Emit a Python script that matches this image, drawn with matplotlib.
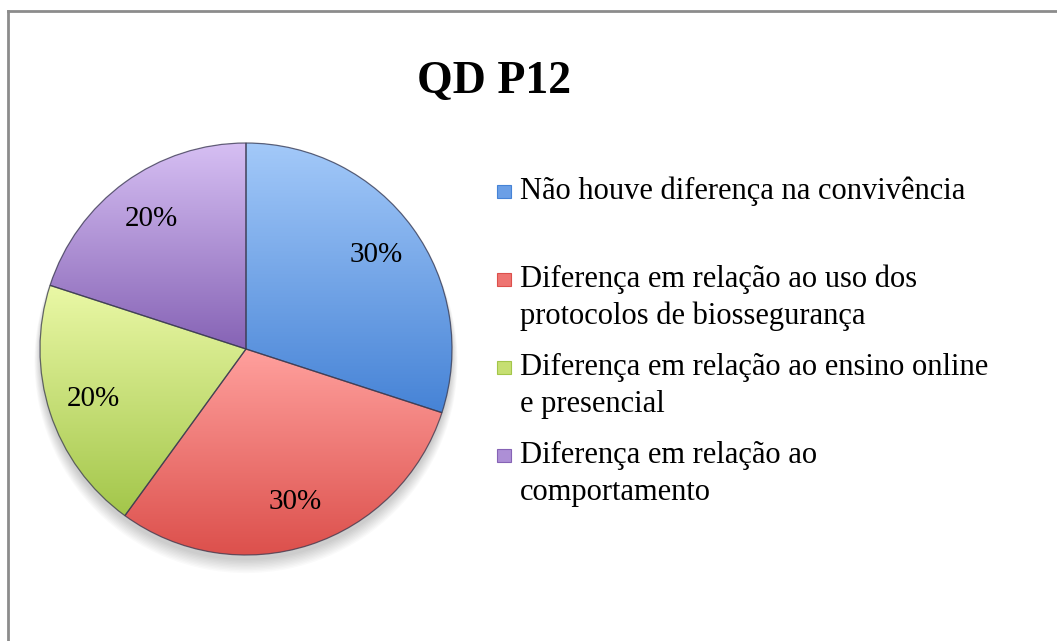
import numpy as np
import matplotlib
matplotlib.use('Agg')
import matplotlib.pyplot as plt
from matplotlib.colors import LinearSegmentedColormap
from matplotlib.patches import Rectangle, PathPatch

categories = ['Não houve diferença na convivência',
              'Diferença em relação ao uso dos\nprotocolos de biossegurança',
              'Diferença em relação ao ensino online\ne presencial',
              'Diferença em relação ao\ncomportamento']
values = [30, 30, 20, 20]
title = 'QD P12'

# light (top) / dark (bottom) gradient colours per slice
light_colors = ['#a3c9f9', '#ffa09d', '#eaf8a6', '#d6bff3']
dark_colors = ['#4683d6', '#dc504c', '#a3c64a', '#8663b5']
mid_colors = ['#6b9fe6', '#ee7471', '#c6df72', '#ad8fd6']

W, H = 1057, 641
fig = plt.figure(figsize=(W / 100, H / 100), dpi=100, facecolor='white')

serif = ['Liberation Serif', 'DejaVu Serif']

# outer frame (only left and top edges are visible)
fig.add_artist(plt.Line2D([7.5 / W, 7.5 / W], [0, 1 - 11 / H], color='#8c8c8c', lw=2))
fig.add_artist(plt.Line2D([7.5 / W, 1], [1 - 11 / H, 1 - 11 / H], color='#8c8c8c', lw=2))

fig.text(494 / W, 1 - 82 / H, title, ha='center', va='center',
         fontsize=33, fontweight='bold', family=serif)

# pie axes
cx, cy, r = 246, 349, 206
lim = 1.12
half = r * lim
ax = fig.add_axes([(cx - half) / W, 1 - (cy + half) / H, 2 * half / W, 2 * half / H])
ax.set_xlim(-lim, lim)
ax.set_ylim(-lim, lim)
ax.set_aspect('equal')
ax.axis('off')

# soft shadow under the pie
for k in range(10):
    sh = plt.Circle((0.0, -0.025 - k * 0.004), 1.0 + k * 0.003, color='#000000',
                    alpha=0.018, zorder=0, lw=0)
    ax.add_patch(sh)

wedges, _, autotexts = ax.pie(values, startangle=90, counterclock=False,
                              autopct='%1.0f%%', pctdistance=0.78,
                              colors=mid_colors,
                              wedgeprops=dict(edgecolor='none', linewidth=0),
                              textprops=dict(fontsize=21, family=serif, color='black'))
ax.set_xlim(-lim, lim)
ax.set_ylim(-lim, lim)

for i, w in enumerate(wedges):
    w.set_zorder(1)
    path = w.get_path()
    bb = path.get_extents()
    cmap = LinearSegmentedColormap.from_list('g%d' % i, [dark_colors[i], light_colors[i]])
    grad = np.linspace(0, 1, 256).reshape(-1, 1)
    im = ax.imshow(grad, cmap=cmap, origin='lower', aspect='auto', interpolation='bilinear',
                   extent=[bb.x0, bb.x1, bb.y0, bb.y1], zorder=2)
    im.set_clip_path(w)
    ax.add_patch(PathPatch(path, fill=False, edgecolor='#3a3a50', lw=0.9, alpha=0.75, zorder=3))
ax.set_xlim(-lim, lim)
ax.set_ylim(-lim, lim)
for t in autotexts:
    t.set_zorder(5)

# legend drawn by hand to keep Excel's slot spacing
leg_x, text_x = 497, 520
first_base = 199
slot = 88
line_h = 37
for i, lab in enumerate(categories):
    base = first_base + i * slot
    fig.add_artist(Rectangle((leg_x / W, 1 - (base - 1) / H), 14 / W, 13 / H,
                             facecolor=mid_colors[i], edgecolor=dark_colors[i], lw=0.8))
    for j, line in enumerate(lab.split('\n')):
        fig.text(text_x / W, 1 - (base + j * line_h) / H, line, ha='left', va='baseline',
                 fontsize=22, family=serif, color='black')

plt.savefig('out.png', dpi=100, facecolor='white')
